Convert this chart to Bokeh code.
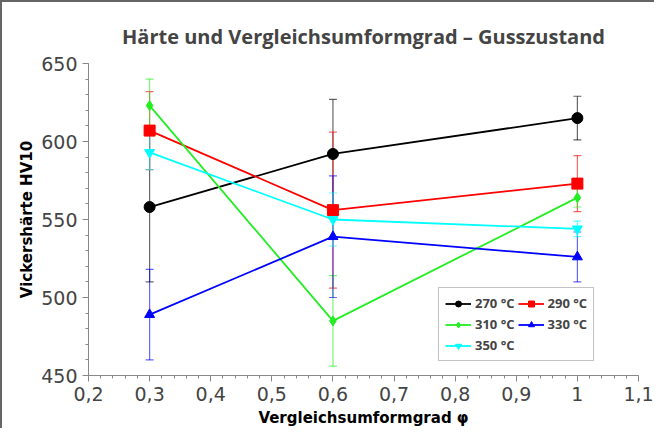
from bokeh.plotting import figure
from bokeh.models import ColumnDataSource, Whisker, TeeHead, Legend, LegendItem, CustomJSTickFormatter, FixedTicker, Range1d
from bokeh.embed import file_html
from bokeh.resources import INLINE

x = [0.3, 0.6, 1.0]
series_names = ["270 °C", "290 °C", "310 °C", "330 °C", "350 °C"]
h270 = [558, 592, 615]
e270 = [48, 35, 14]
h290 = [607, 556, 573]
e290 = [25, 50, 18]
h310 = [623, 485, 564]
e310 = [17, 29, 6]
h330 = [489, 539, 526]
e330 = [29, 39, 16]
h350 = [593, 550, 544]
e350 = [11, 17, 5]
x_ticks = [0.2, 0.3, 0.4, 0.5, 0.6, 0.7, 0.8, 0.9, 1.0, 1.1]
y_ticks = [450, 500, 550, 600, 650]

values = [h270, h290, h310, h330, h350]
errors = [e270, e290, e310, e330, e350]
colors = ["#000000", "#ff0000", "#22ee22", "#0000ff", "#00ffff"]
markers = ["circle", "square", "diamond", "triangle", "inverted_triangle"]
msizes = [11, 11, 10, 10, 10]

p = figure(width=654, height=428, output_backend="svg", toolbar_location=None,
           x_range=Range1d(0.2, 1.1), y_range=Range1d(450, 650),
           min_border_left=86, min_border_right=18, min_border_top=61, min_border_bottom=55)
p.styles = {"border-left": "2px solid #666", "border-top": "2px solid #666"}
p.outline_line_color = None
p.xgrid.visible = False
p.ygrid.visible = False

p.title.text = "Härte und Vergleichsumformgrad – Gusszustand"
p.title.align = "center"
p.title.text_font = "Open Sans"
p.title.text_font_size = "20px"
p.title.text_font_style = "bold"
p.title.text_color = "#444444"
p.title.standoff = 28

fmt = CustomJSTickFormatter(code="""
const s = (Math.round(tick*10)/10).toString();
return s.replace('.', ',');
""")
p.xaxis.ticker = FixedTicker(ticks=x_ticks, minor_ticks=[0.2 + 0.02*i for i in range(46)])
p.yaxis.ticker = FixedTicker(ticks=y_ticks, minor_ticks=[450 + 10*i for i in range(21)])
p.xaxis.formatter = fmt
for ax in (p.xaxis, p.yaxis):
    ax.axis_line_color = "#888888"
    ax.major_tick_line_color = "#888888"
    ax.minor_tick_line_color = "#888888"
    ax.major_tick_in = 0
    ax.major_tick_out = 6
    ax.minor_tick_in = 0
    ax.minor_tick_out = 3
    ax.major_label_text_font = "DejaVu Sans"
    ax.major_label_text_font_size = "19px"
    ax.major_label_text_color = "#444444"
    ax.axis_label_text_font = "DejaVu Sans"
    ax.axis_label_text_font_size = "15px"
    ax.axis_label_text_font_style = "bold"
    ax.axis_label_text_color = "#000000"
p.xaxis.axis_label = "Vergleichsumformgrad φ"
p.yaxis.axis_label = "Vickershärte HV10"
p.yaxis.axis_label_standoff = 2

items = []
for name, v, e, c, m, s in zip(series_names, values, errors, colors, markers, msizes):
    src = ColumnDataSource(dict(x=x, y=v, lo=[a - b for a, b in zip(v, e)], hi=[a + b for a, b in zip(v, e)]))
    w = Whisker(source=src, base="x", lower="lo", upper="hi", line_color=c, line_alpha=0.6, line_width=1.2,
                upper_head=TeeHead(size=8, line_color=c, line_alpha=0.6, line_width=1.2),
                lower_head=TeeHead(size=8, line_color=c, line_alpha=0.6, line_width=1.2))
    p.add_layout(w)
    r1 = p.line("x", "y", source=src, line_color=c, line_width=1.8)
    r2 = p.scatter("x", "y", source=src, marker=m, size=s, fill_color=c, line_color=c)
    items.append(LegendItem(label=name, renderers=[r1, r2]))

# column-major fill: reorder so rows read 270|290, 310|330, 350
ordered = [items[0], items[2], items[4], items[1], items[3]]
legend = Legend(items=ordered, ncols=2, location=(350, 14))
legend.label_text_font = "Open Sans"
legend.label_text_font_size = "13px"
legend.label_text_font_style = "bold"
legend.glyph_width = 26
legend.glyph_height = 15
legend.label_standoff = 4
legend.spacing = 3
legend.padding = 6
legend.margin = 0
legend.border_line_color = "#888888"
legend.label_height = 15
p.add_layout(legend, "center")

open("out.html", "w").write(file_html(p, INLINE))
